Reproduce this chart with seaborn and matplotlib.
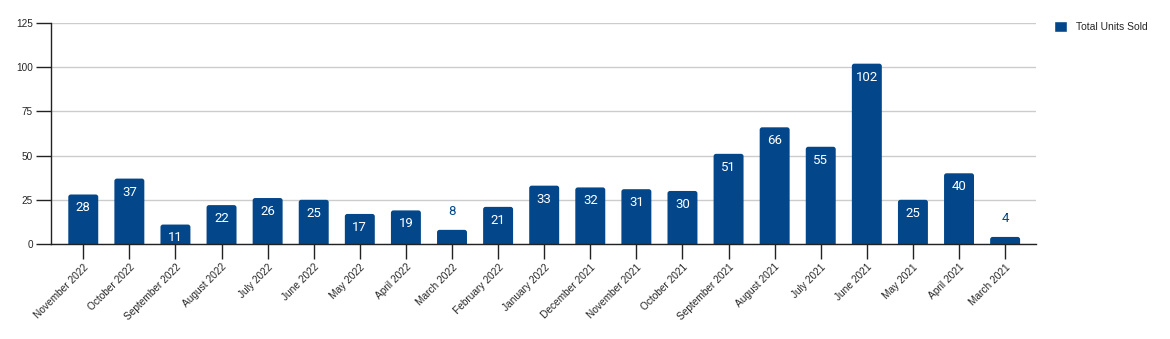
import matplotlib
matplotlib.use("Agg")
import matplotlib.pyplot as plt
from matplotlib.patches import FancyBboxPatch
import seaborn as sns
import pandas as pd

months = ["November 2022", "October 2022", "September 2022", "August 2022", "July 2022",
          "June 2022", "May 2022", "April 2022", "March 2022", "February 2022",
          "January 2022", "December 2021", "November 2021", "October 2021",
          "September 2021", "August 2021", "July 2021", "June 2021", "May 2021",
          "April 2021", "March 2021"]
units = [28, 37, 11, 22, 26, 25, 17, 19, 8, 21, 33, 32, 31, 30, 51, 66, 55, 102, 25, 40, 4]
yticks = [0, 25, 50, 75, 100, 125]
series_name = "Total Units Sold"

BAR = "#03478a"

sns.set_theme(style="white")
plt.rcParams['font.family'] = ['Liberation Sans', 'DejaVu Sans']

df = pd.DataFrame({"month": months, "units": units, "series": series_name})

fig = plt.figure(figsize=(11.7, 3.39), dpi=100)
ax = fig.add_axes([51/1170, 95/339, (1036-51)/1170, (244-23)/339])

sns.barplot(data=df, x="month", y="units", hue="series", palette=[BAR],
            width=0.65, ax=ax, saturation=1, legend=True, zorder=3)

ax.set_ylim(0, 125)
ax.set_yticks(yticks)
ax.set_xlim(-0.7, 20.67)
ax.yaxis.grid(True, color="#cccccc", linewidth=1, zorder=0)
ax.set_axisbelow(True)
ax.set_xlabel("")
ax.set_ylabel("")
for s in ["top", "right"]:
    ax.spines[s].set_visible(False)
for s in ["left", "bottom"]:
    ax.spines[s].set_color("#222222")
    ax.spines[s].set_linewidth(1)
    ax.spines[s].set_zorder(5)

ax.tick_params(axis="y", length=11, width=1, color="#222222", labelsize=7.2, pad=2, left=True)
ax.tick_params(axis="x", length=11, width=1, color="#222222", labelsize=7.3, pad=2, bottom=True)
plt.setp(ax.get_xticklabels(), rotation=45, ha="right", rotation_mode="anchor")

leg = ax.legend(loc="upper left", bbox_to_anchor=(1.014, 1.03), frameon=False,
                fontsize=7.5, handlelength=1.3, handleheight=1.3, handletextpad=0.8,
                borderaxespad=0)

# rounded bar tops
px_x = (1036 - 51) / (20.67 + 0.7)
px_y = (244 - 23) / 125
for p in list(ax.patches):
    x, y, w, h = p.get_x(), p.get_y(), p.get_width(), p.get_height()
    r = 2.5 / px_x
    aspect = (2.5 / px_y) / r
    fb = FancyBboxPatch((x, -3), w, h + 3,
                        boxstyle=f"round,pad=0,rounding_size={r}",
                        mutation_aspect=aspect, facecolor=BAR, edgecolor="none",
                        zorder=3, clip_on=True)
    ax.add_patch(fb)
    p.set_visible(False)

# value labels
for i, v in enumerate(units):
    if v >= 10:
        ax.text(i, v - 7.6, str(v), ha="center", va="center", color="white",
                fontsize=9.5, family="Roboto", zorder=6)
    else:
        ax.text(i, v + 10.5, str(v), ha="center", va="center", color=BAR,
                fontsize=9.5, family="Roboto", zorder=6)

fig.savefig("out.png", dpi=100)
